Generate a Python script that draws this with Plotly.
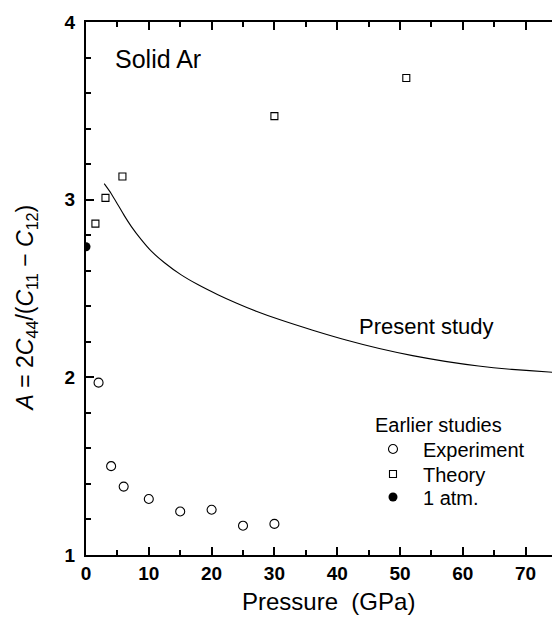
import plotly.graph_objects as go

# Present study curve
curve_p = [2.9, 4.0, 5.1, 6.1, 7.2, 8.8, 10.4, 12.5, 15.1, 17.8, 21.0, 24.0, 27.1, 30.8,
           36.1, 41.4, 46.7, 52.0, 57.2, 62.5, 67.8, 73.7, 74.5]
curve_a = [3.09, 3.035, 2.97, 2.91, 2.85, 2.775, 2.71, 2.645, 2.578, 2.522, 2.465, 2.417, 2.372, 2.325,
           2.265, 2.21, 2.162, 2.122, 2.09, 2.064, 2.045, 2.03, 2.028]

# Earlier studies: experiment
exp_p = [2, 4, 6, 10, 15, 20, 25, 30]
exp_a = [1.97, 1.50, 1.385, 1.315, 1.245, 1.255, 1.165, 1.175]

# Earlier studies: theory
th_p = [1.5, 3.1, 5.8, 30, 51]
th_a = [2.865, 3.01, 3.13, 3.47, 3.685]

# 1 atm
atm_p = [0]
atm_a = [2.735]

x_ticks = [0, 10, 20, 30, 40, 50, 60, 70]
y_ticks = [1, 2, 3, 4]

FONT = "Arial, Liberation Sans, Noto Sans CJK JP, sans-serif"

fig = go.Figure()
fig.add_trace(go.Scatter(x=curve_p, y=curve_a, mode="lines",
                         line=dict(color="black", width=1.1, shape="spline", smoothing=0.6),
                         showlegend=False))
fig.add_trace(go.Scatter(x=exp_p, y=exp_a, mode="markers", name="Experiment", legend="legend",
                         marker=dict(symbol="circle-open", size=9, color="black", line=dict(width=1.1))))
fig.add_trace(go.Scatter(x=th_p, y=th_a, mode="markers", name="Theory", legend="legend2",
                         marker=dict(symbol="square-open", size=7, color="black", line=dict(width=1.1))))
fig.add_trace(go.Scatter(x=atm_p, y=atm_a, mode="markers", name="1 atm.", legend="legend3",
                         marker=dict(symbol="circle", size=9, color="black")))

axis_common = dict(showline=True, linecolor="black", linewidth=2, ticks="inside",
                   tickcolor="black", tickwidth=1.5, showgrid=False, zeroline=False,
                   tickfont=dict(family=FONT, size=19, color="black", weight="bold"))

fig.update_xaxes(range=[0, 74.2], tickvals=x_ticks, ticklen=8, mirror="ticks",
                 minor=dict(dtick=5, tick0=0, ticks="inside", ticklen=5, tickcolor="black", tickwidth=1.5),
                 ticklabelstandoff=0, **axis_common)
fig.update_yaxes(range=[1, 4], tickvals=y_ticks, ticklen=8, mirror=False,
                 minor=dict(dtick=0.2, tick0=1, ticks="inside", ticklen=5, tickcolor="black", tickwidth=1.5),
                 ticklabelstandoff=5, **axis_common)

leg_common = dict(xanchor="left", yanchor="middle", bgcolor="rgba(0,0,0,0)", itemwidth=50,
                  font=dict(family=FONT, size=20, color="black"))
LEG_X = 0.5944

fig.update_layout(
    width=552, height=624,
    margin=dict(l=86, r=0, t=22, b=69),
    plot_bgcolor="white", paper_bgcolor="white",
    font=dict(family=FONT, color="black"),
    legend=dict(x=LEG_X, y=(555 - 449) / 533, **leg_common),
    legend2=dict(x=LEG_X, y=(555 - 474) / 533, **leg_common),
    legend3=dict(x=LEG_X, y=(555 - 497) / 533, **leg_common),
    annotations=[
        dict(text="Solid Ar", x=4.3, y=3.79, xref="x", yref="y", xanchor="left", yanchor="middle",
             showarrow=False, font=dict(family=FONT, size=25, color="black")),
        dict(text="Present study", x=54.2, y=2.288, xref="x", yref="y", xanchor="center", yanchor="middle",
             showarrow=False, font=dict(family=FONT, size=22, color="black")),
        dict(text="Earlier studies", x=(373 - 86) / 466, y=(555 - 425) / 533, xref="paper", yref="paper",
             xanchor="left", yanchor="middle", showarrow=False,
             font=dict(family=FONT, size=20, color="black")),
        dict(text="Pressure\u00a0\u00a0(GPa)", x=(328 - 86) / 466, y=(555 - 601) / 533, xref="paper", yref="paper",
             xanchor="center", yanchor="middle", showarrow=False,
             font=dict(family=FONT, size=24, color="black")),
        dict(text="<i>A</i> = 2<i>C</i><sub>44</sub>/(<i>C</i><sub>11</sub> − <i>C</i><sub>12</sub>)",
             x=-0.127, y=0.464, xref="paper", yref="paper", xanchor="center", yanchor="middle",
             textangle=-90, showarrow=False, font=dict(family=FONT, size=23, color="black")),
    ],
)

fig.write_html("out.html")
